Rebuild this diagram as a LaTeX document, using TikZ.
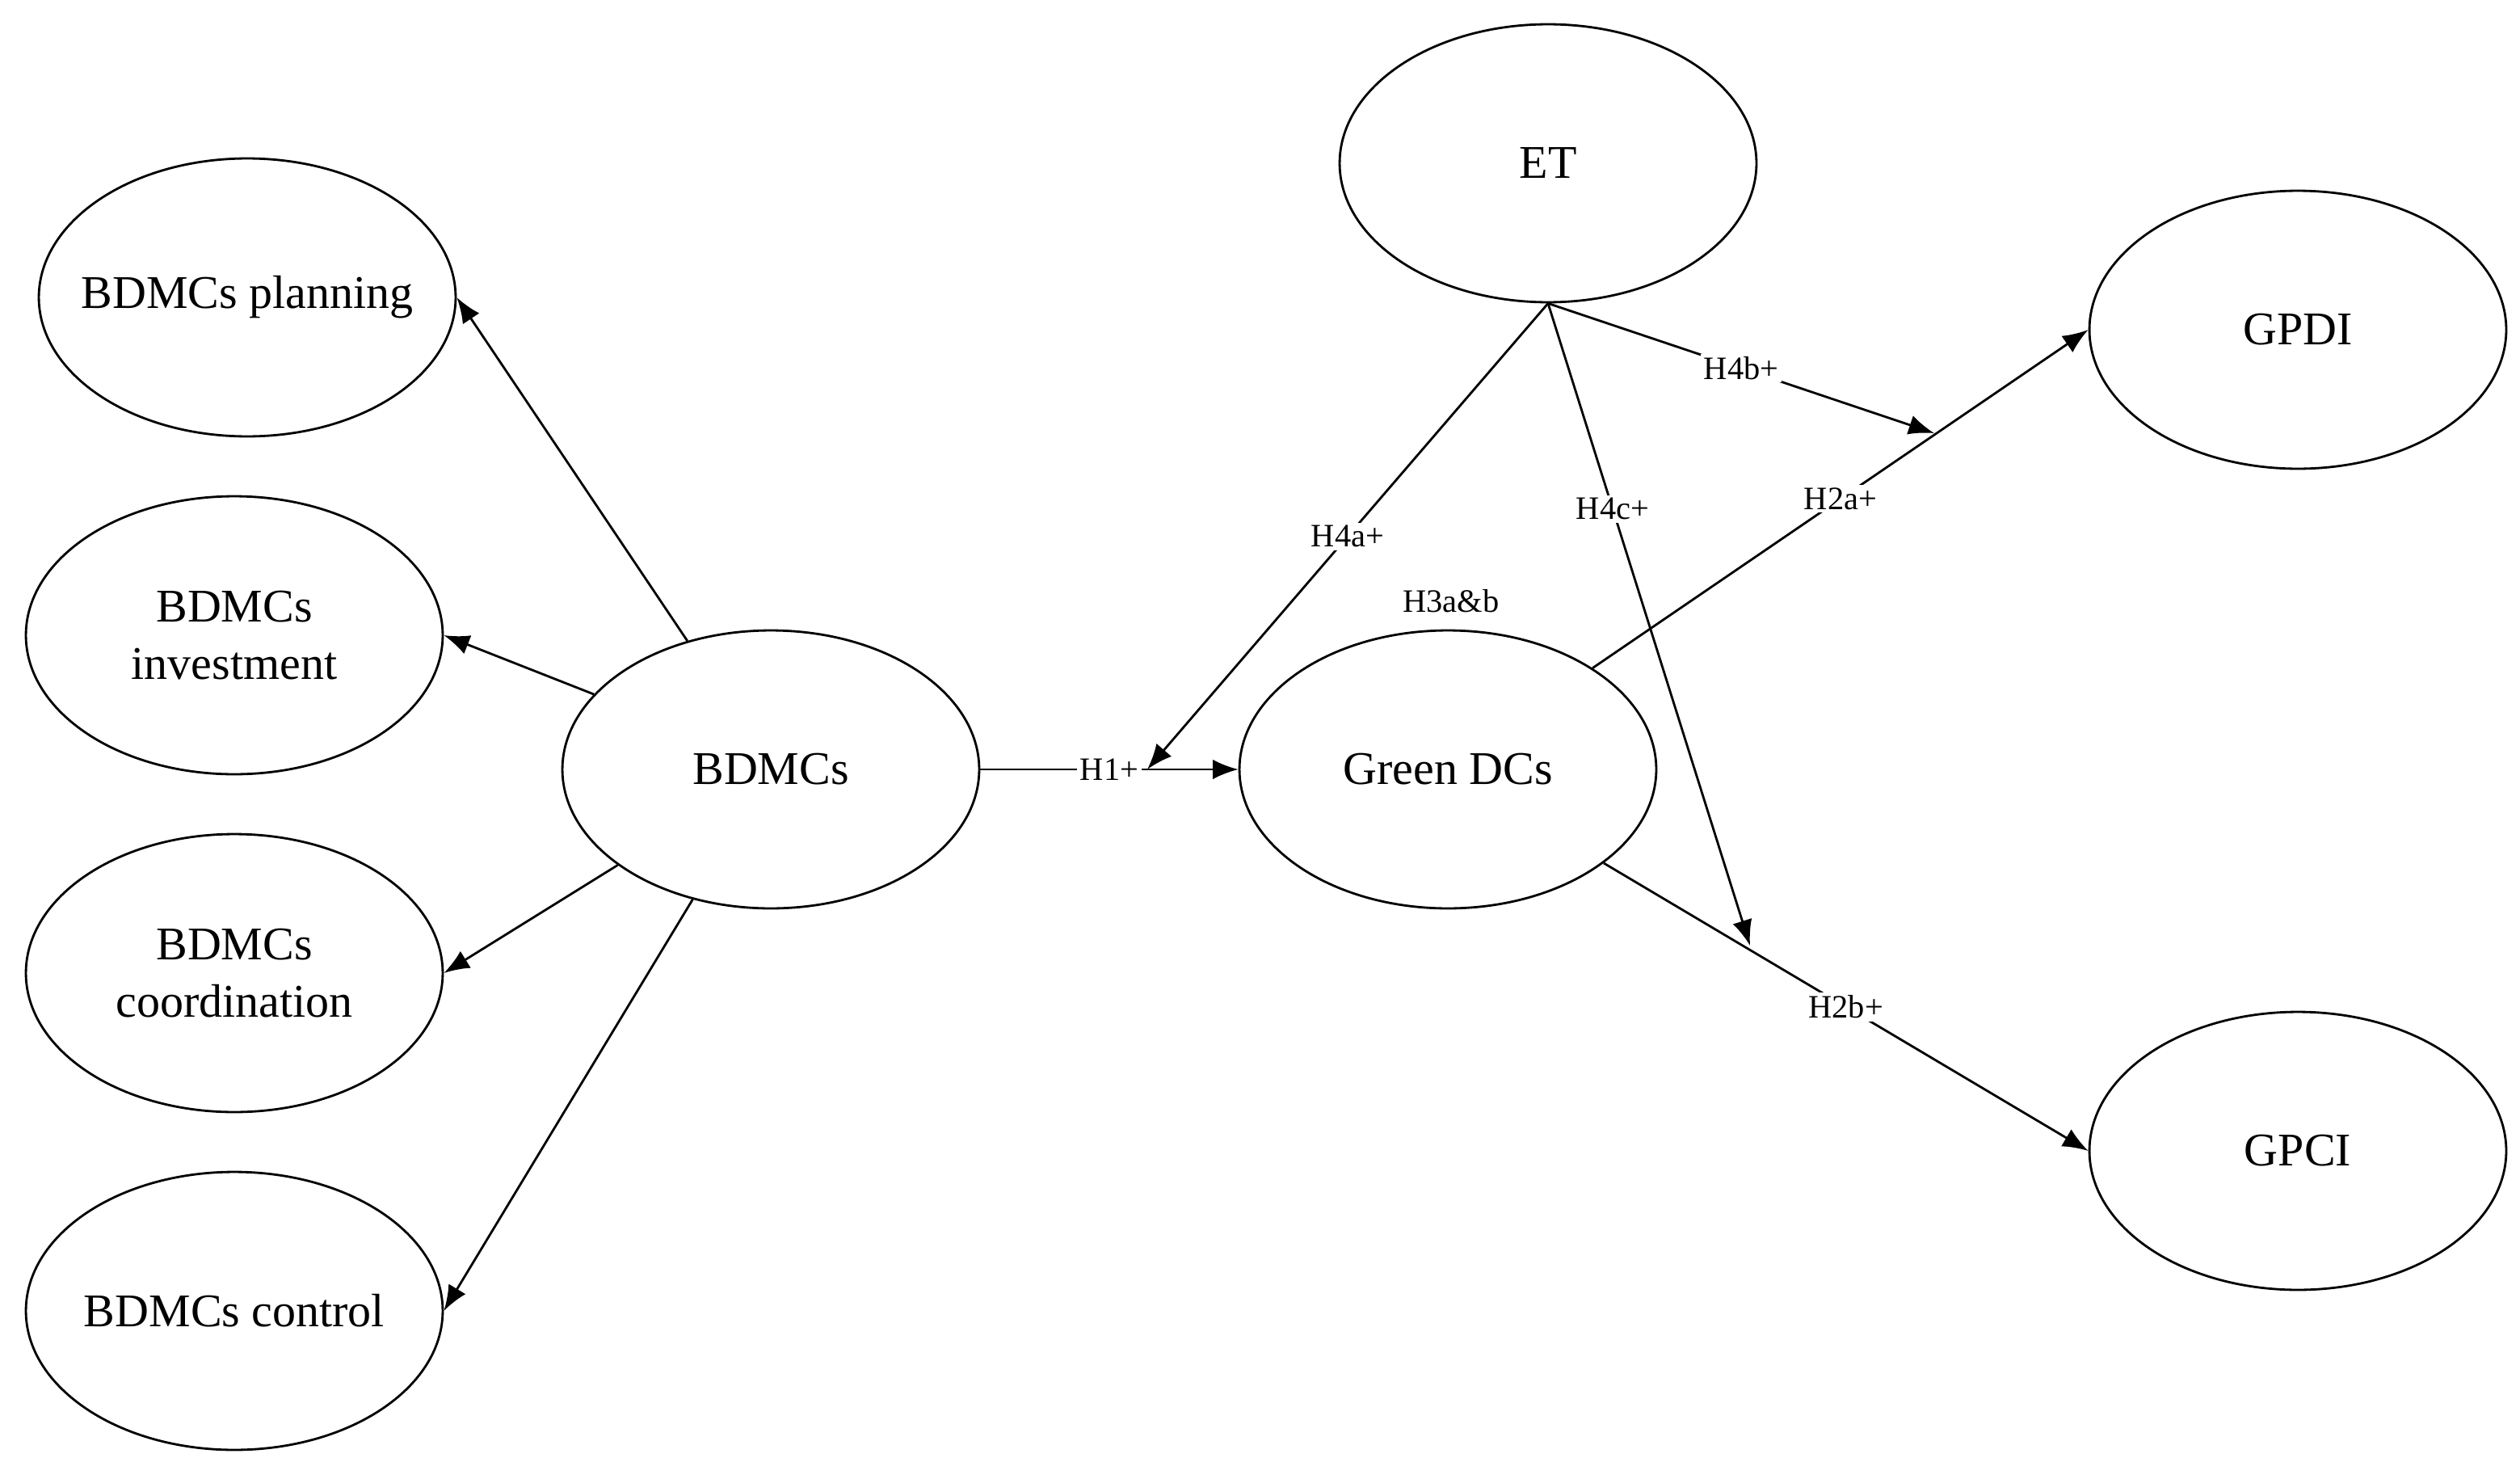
\documentclass[tikz,border=0pt]{standalone}
\usepackage{fontspec}
\setmainfont{Liberation Serif}
\usetikzlibrary{shapes.geometric,arrows.meta}
\begin{document}
\begin{tikzpicture}[x=0.02cm,y=-0.02cm,
  el/.style={ellipse,draw,line width=0.8pt,minimum width=5.16cm,minimum height=3.44cm,align=center,font=\fontsize{16.5}{20}\selectfont,inner xsep=-0.35cm,inner ysep=0pt},
  ar/.style={line width=0.8pt,-{Latex[length=9pt,width=7pt]}},
  lb/.style={fill=white,inner sep=1pt,font=\fontsize{11.5}{13}\selectfont}]
\useasboundingbox (0,0) rectangle (1559.5,914.5);
\node[el] (pl) at (153,184) {BDMCs planning};
\node[el] (inv) at (145,393) {BDMCs\\investment};
\node[el] (co) at (145,602) {BDMCs\\coordination};
\node[el] (ctl) at (145,811) {BDMCs control};
\node[el] (bd) at (477,476) {BDMCs};
\node[el] (gd) at (896,476) {Green DCs};
\node[el] (et) at (958,101) {ET};
\node[el] (gp) at (1422,204) {GPDI};
\node[el] (gc) at (1422,712) {GPCI};
\coordinate (h4a) at (710,476);
\coordinate (h4b) at (1197,268);
\coordinate (h4c) at (1083,585);
\draw[ar] (bd.123) -- (pl.east);
\draw[ar] (bd.157) -- (inv.east);
\draw[ar] (bd.212) -- (co.east);
\draw[ar] (bd.239) -- (ctl.east);
\draw[ar] (bd.east) -- node[lb,pos=0.5]{H1+} (gd.west);
\draw[ar] (et.south) -- node[lb,pos=0.5]{H4a+} (h4a);
\draw[ar] (et.south) -- node[lb,pos=0.5]{H4b+} (h4b);
\draw[ar] (et.south) -- node[lb,pos=0.32]{H4c+} (h4c);
\draw[ar] (gd.35) -- node[lb,pos=0.5]{H2a+} (gp.west);
\draw[ar] (gd.-31) -- node[lb,pos=0.5]{H2b+} (gc.west);
\node[lb,fill=none] (h3) at (898,372) {H3a\&b};
\end{tikzpicture}
\end{document}
